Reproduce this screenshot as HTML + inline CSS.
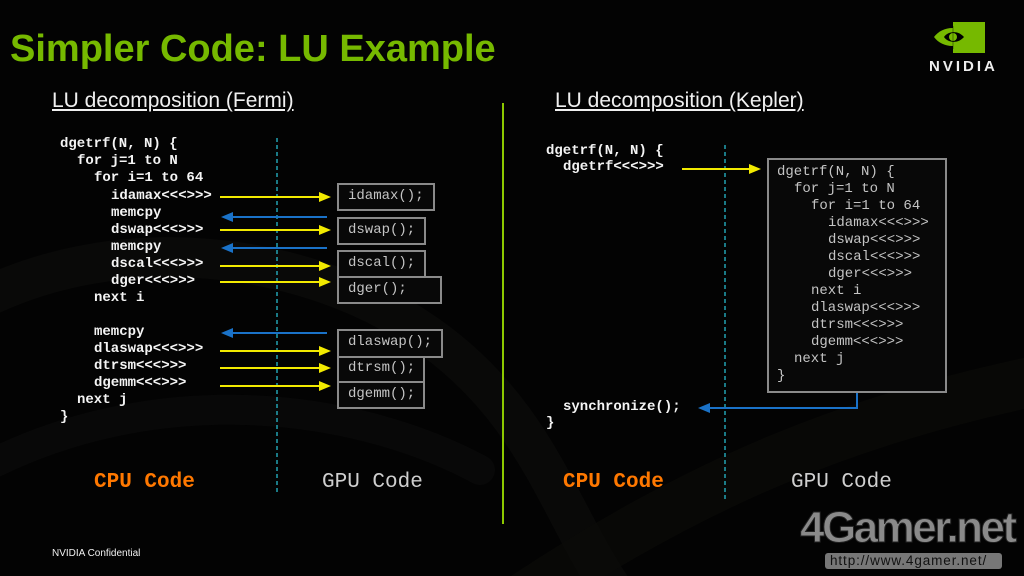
<!DOCTYPE html>
<html><head><meta charset="utf-8">
<style>
html,body{margin:0;padding:0;background:#000;}
#s{position:relative;width:1024px;height:576px;overflow:hidden;background:#030303;font-family:"Liberation Sans",Arial,sans-serif;}
.t{position:absolute;white-space:pre;line-height:17px;}
.c{font-family:"Liberation Mono","Courier New",monospace;font-size:14px;font-weight:bold;color:#f4f4f4;}
.g{font-family:"Liberation Mono","Courier New",monospace;font-size:14px;color:#c4c4c4;}
svg{position:absolute;left:0;top:0;}
</style></head><body>
<div id="s">
<svg width="1024" height="576" viewBox="0 0 1024 576">
  <!-- faint background swooshes -->
  <g fill="none" stroke-linecap="round">
    <path d="M-20 300 C 120 230, 300 250, 420 330 S 560 520, 620 600" stroke="#0d0d0b" stroke-width="40" opacity="0.7"/>
    <path d="M-20 470 C 150 380, 350 400, 480 470" stroke="#0b0b0b" stroke-width="30" opacity="0.6"/>
    <path d="M520 600 C 700 480, 850 420, 1040 380" stroke="#0b0c09" stroke-width="50" opacity="0.7"/>
  </g>
  <!-- green divider -->
  <line x1="503" y1="103" x2="503" y2="524" stroke="#8cc800" stroke-width="2"/>
  <!-- cyan dashed -->
  <line x1="277" y1="138" x2="277" y2="493" stroke="#23a2b2" stroke-width="1.5" stroke-dasharray="4 3"/>
  <line x1="725" y1="145" x2="725" y2="500" stroke="#23a2b2" stroke-width="1.5" stroke-dasharray="4 3"/>
  <!-- boxes left -->
  <g fill="#080808" stroke="#8a8a8a" stroke-width="2">
    <rect x="338" y="184" width="96" height="26"/>
    <rect x="338" y="218" width="87" height="26"/>
    <rect x="338" y="251" width="87" height="26"/>
    <rect x="338" y="277" width="103" height="26"/>
    <rect x="338" y="330" width="104" height="27"/>
    <rect x="338" y="357" width="86" height="25"/>
    <rect x="338" y="382" width="86" height="26"/>
    <rect x="768" y="159" width="178" height="233"/>
  </g>
  <!-- yellow arrows -->
  <g stroke="#f2ea00" stroke-width="2" fill="#f2ea00">
    <line x1="220" y1="197" x2="321" y2="197"/><polygon stroke="none" points="331,197 319,192 319,202"/>
    <line x1="220" y1="230" x2="321" y2="230"/><polygon stroke="none" points="331,230 319,225 319,235"/>
    <line x1="220" y1="266" x2="321" y2="266"/><polygon stroke="none" points="331,266 319,261 319,271"/>
    <line x1="220" y1="282" x2="321" y2="282"/><polygon stroke="none" points="331,282 319,277 319,287"/>
    <line x1="220" y1="351" x2="321" y2="351"/><polygon stroke="none" points="331,351 319,346 319,356"/>
    <line x1="220" y1="368" x2="321" y2="368"/><polygon stroke="none" points="331,368 319,363 319,373"/>
    <line x1="220" y1="386" x2="321" y2="386"/><polygon stroke="none" points="331,386 319,381 319,391"/>
    <line x1="682" y1="169" x2="751" y2="169"/><polygon stroke="none" points="761,169 749,164 749,174"/>
  </g>
  <!-- blue arrows -->
  <g stroke="#1a72c8" stroke-width="2" fill="#1a72c8">
    <line x1="327" y1="217" x2="231" y2="217"/><polygon stroke="none" points="221,217 233,212 233,222"/>
    <line x1="327" y1="248" x2="231" y2="248"/><polygon stroke="none" points="221,248 233,243 233,253"/>
    <line x1="327" y1="333" x2="231" y2="333"/><polygon stroke="none" points="221,333 233,328 233,338"/>
    <polyline fill="none" points="857,393 857,408 708,408"/><polygon stroke="none" points="698,408 710,403 710,413"/>
  </g>
  <!-- NVIDIA logo -->
  <rect x="953" y="22" width="32" height="31" fill="#76b900"/>
  <path d="M934 37 C 942 26, 960 24, 972 37 C 960 50, 942 48, 934 37 Z" fill="#76b900"/>
  <path d="M944 37 C 948 31, 958 30, 964 37 C 958 44, 948 43, 944 37 Z" fill="#000"/>
  <circle cx="953" cy="37" r="4" fill="#76b900"/>
  <path d="M953 26 L953 49" stroke="#000" stroke-width="1" opacity="0.4"/>
</svg>

<div class="t" style="left:10px;top:28px;font-size:38px;line-height:42px;font-weight:bold;color:#76b900;">Simpler Code: LU Example</div>
<div class="t" style="left:52px;top:88px;font-size:21px;line-height:25px;color:#f0f0f0;text-decoration:underline;">LU decomposition (Fermi)</div>
<div class="t" style="left:555px;top:88px;font-size:21px;line-height:25px;color:#f0f0f0;text-decoration:underline;">LU decomposition (Kepler)</div>

<div class="t" style="left:929px;top:58px;font-size:15px;line-height:17px;font-weight:bold;color:#eee;letter-spacing:3px;">NVIDIA</div>

<!-- left CPU code -->
<div class="t c" style="left:60px;top:136px;">dgetrf(N, N) {</div>
<div class="t c" style="left:77px;top:153px;">for j=1 to N</div>
<div class="t c" style="left:94px;top:170px;">for i=1 to 64</div>
<div class="t c" style="left:111px;top:188px;">idamax&lt;&lt;&lt;&gt;&gt;&gt;</div>
<div class="t c" style="left:111px;top:205px;">memcpy</div>
<div class="t c" style="left:111px;top:222px;">dswap&lt;&lt;&lt;&gt;&gt;&gt;</div>
<div class="t c" style="left:111px;top:239px;">memcpy</div>
<div class="t c" style="left:111px;top:256px;">dscal&lt;&lt;&lt;&gt;&gt;&gt;</div>
<div class="t c" style="left:111px;top:273px;">dger&lt;&lt;&lt;&gt;&gt;&gt;</div>
<div class="t c" style="left:94px;top:290px;">next i</div>
<div class="t c" style="left:94px;top:324px;">memcpy</div>
<div class="t c" style="left:94px;top:341px;">dlaswap&lt;&lt;&lt;&gt;&gt;&gt;</div>
<div class="t c" style="left:94px;top:358px;">dtrsm&lt;&lt;&lt;&gt;&gt;&gt;</div>
<div class="t c" style="left:94px;top:375px;">dgemm&lt;&lt;&lt;&gt;&gt;&gt;</div>
<div class="t c" style="left:77px;top:392px;">next j</div>
<div class="t c" style="left:60px;top:409px;">}</div>

<!-- left GPU boxes text -->
<div class="t g" style="left:348px;top:188px;">idamax();</div>
<div class="t g" style="left:348px;top:222px;">dswap();</div>
<div class="t g" style="left:348px;top:255px;">dscal();</div>
<div class="t g" style="left:348px;top:281px;">dger();</div>
<div class="t g" style="left:348px;top:334px;">dlaswap();</div>
<div class="t g" style="left:348px;top:360px;">dtrsm();</div>
<div class="t g" style="left:348px;top:386px;">dgemm();</div>

<!-- right CPU code -->
<div class="t c" style="left:546px;top:143px;">dgetrf(N, N) {</div>
<div class="t c" style="left:563px;top:159px;">dgetrf&lt;&lt;&lt;&gt;&gt;&gt;</div>
<div class="t c" style="left:563px;top:399px;">synchronize();</div>
<div class="t c" style="left:546px;top:415px;">}</div>

<!-- right GPU box text -->
<div class="t g" style="left:777px;top:164px;">dgetrf(N, N) {</div>
<div class="t g" style="left:794px;top:181px;">for j=1 to N</div>
<div class="t g" style="left:811px;top:198px;">for i=1 to 64</div>
<div class="t g" style="left:828px;top:215px;">idamax&lt;&lt;&lt;&gt;&gt;&gt;</div>
<div class="t g" style="left:828px;top:232px;">dswap&lt;&lt;&lt;&gt;&gt;&gt;</div>
<div class="t g" style="left:828px;top:249px;">dscal&lt;&lt;&lt;&gt;&gt;&gt;</div>
<div class="t g" style="left:828px;top:266px;">dger&lt;&lt;&lt;&gt;&gt;&gt;</div>
<div class="t g" style="left:811px;top:283px;">next i</div>
<div class="t g" style="left:811px;top:300px;">dlaswap&lt;&lt;&lt;&gt;&gt;&gt;</div>
<div class="t g" style="left:811px;top:317px;">dtrsm&lt;&lt;&lt;&gt;&gt;&gt;</div>
<div class="t g" style="left:811px;top:334px;">dgemm&lt;&lt;&lt;&gt;&gt;&gt;</div>
<div class="t g" style="left:794px;top:351px;">next j</div>
<div class="t g" style="left:777px;top:368px;">}</div>

<!-- bottom labels -->
<div class="t" style="left:94px;top:471px;font-family:'Liberation Mono','Courier New',monospace;font-size:21px;line-height:24px;font-weight:bold;color:#ff7800;">CPU Code</div>
<div class="t" style="left:322px;top:471px;font-family:'Liberation Mono','Courier New',monospace;font-size:21px;line-height:24px;color:#cfcfcf;">GPU Code</div>
<div class="t" style="left:563px;top:471px;font-family:'Liberation Mono','Courier New',monospace;font-size:21px;line-height:24px;font-weight:bold;color:#ff7800;">CPU Code</div>
<div class="t" style="left:791px;top:471px;font-family:'Liberation Mono','Courier New',monospace;font-size:21px;line-height:24px;color:#cfcfcf;">GPU Code</div>

<div class="t" style="left:52px;top:548px;font-size:10px;line-height:12px;color:#f0f0f0;">NVIDIA Confidential</div>

<!-- 4Gamer watermark -->
<div class="t" style="left:800px;top:503px;font-size:44px;line-height:50px;font-weight:bold;color:#8a8a8a;letter-spacing:-2.5px;-webkit-text-stroke:1px #222;">4Gamer.net</div>
<div style="position:absolute;left:825px;top:553px;width:177px;height:16px;background:#777;border-radius:3px;"></div>
<div class="t" style="left:830px;top:553px;font-family:'Liberation Sans',Arial,sans-serif;font-size:13.5px;line-height:16px;color:#111;letter-spacing:0.9px;">http://www.4gamer.net/</div>
</div>
</body></html>
